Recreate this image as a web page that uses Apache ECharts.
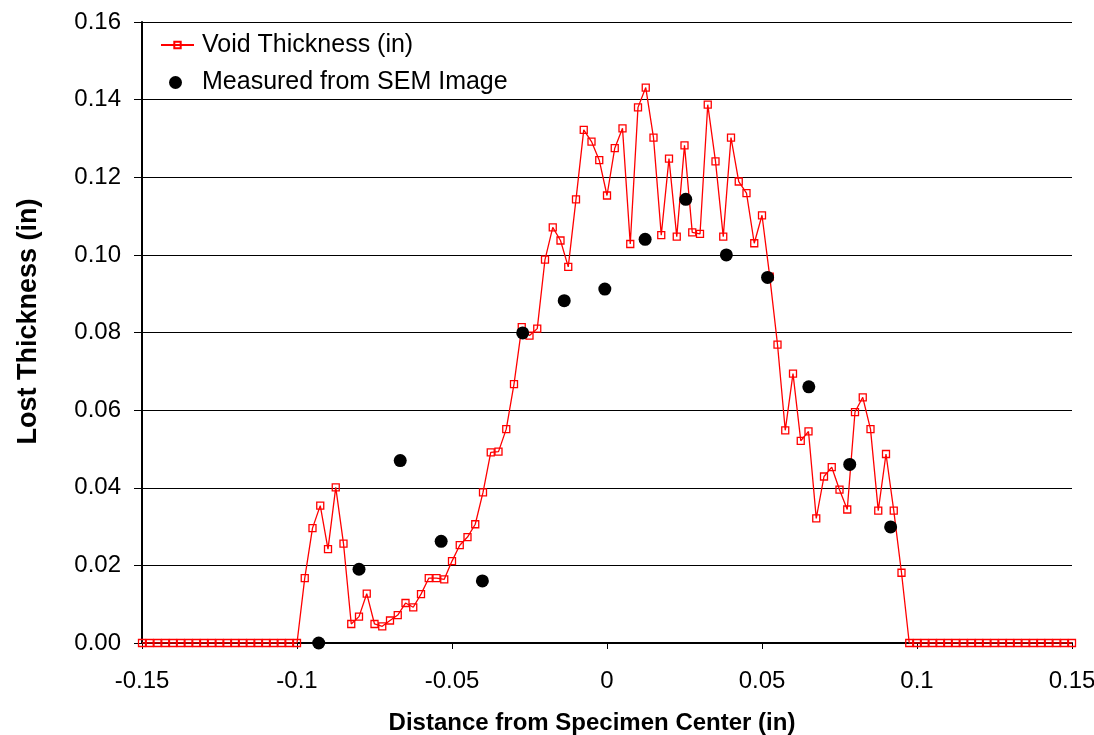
<!DOCTYPE html>
<html>
<head>
<meta charset="utf-8">
<script src="https://cdn.jsdelivr.net/npm/echarts@6/dist/echarts.min.js"></script>
<style>html,body{margin:0;padding:0;background:#fff;}#c{width:1094px;height:735px;}</style>
</head>
<body>
<div id="c"></div>
<script>
// Void thickness profile: x positions (in) and values (in)
const voidX = [
-0.15,-0.1475,-0.145,-0.1425,-0.14,-0.1375,-0.135,-0.1325,-0.13,-0.1275,
-0.125,-0.1225,-0.12,-0.1175,-0.115,-0.1125,-0.11,-0.1075,-0.105,-0.1025,
-0.1,-0.0975,-0.095,-0.0925,-0.09,-0.0875,-0.085,-0.0825,-0.08,-0.0775,
-0.075,-0.0725,-0.07,-0.0675,-0.065,-0.0625,-0.06,-0.0575,-0.055,-0.0525,
-0.05,-0.0475,-0.045,-0.0425,-0.04,-0.0375,-0.035,-0.0325,-0.03,-0.0275,
-0.025,-0.0225,-0.02,-0.0175,-0.015,-0.0125,-0.01,-0.0075,-0.005,-0.0025,
0,0.0025,0.005,0.0075,0.01,0.0125,0.015,0.0175,0.02,0.0225,
0.025,0.0275,0.03,0.0325,0.035,0.0375,0.04,0.0425,0.045,0.0475,
0.05,0.0525,0.055,0.0575,0.06,0.0625,0.065,0.0675,0.07,0.0725,
0.075,0.0775,0.08,0.0825,0.085,0.0875,0.09,0.0925,0.095,0.0975,
0.1,0.1025,0.105,0.1075,0.11,0.1125,0.115,0.1175,0.12,0.1225,
0.125,0.1275,0.13,0.1325,0.135,0.1375,0.14,0.1425,0.145,0.1475,0.15
];
const voidY = [
0,0,0,0,0,0,0,0,0,0,
0,0,0,0,0,0,0,0,0,0,
0,0.0167,0.0296,0.0354,0.0242,0.0401,0.0256,0.0049,0.0068,0.0127,
0.0049,0.0043,0.0058,0.0072,0.0103,0.0092,0.0126,0.0167,0.0167,0.0164,
0.0211,0.0252,0.0273,0.0306,0.0388,0.0491,0.0493,0.0551,0.0667,0.0814,
0.0792,0.0810,0.0988,0.1071,0.1037,0.0969,0.1143,0.1322,0.1292,0.1244,
0.1153,0.1275,0.1326,0.1028,0.1380,0.1431,0.1302,0.1051,0.1248,0.1047,
0.1282,0.1058,0.1054,0.1387,0.1241,0.1047,0.1302,0.1189,0.1159,0.1030,
0.1102,0.0944,0.0769,0.0548,0.0694,0.0521,0.0545,0.0321,0.0429,0.0453,
0.0395,0.0344,0.0595,0.0633,0.0551,0.0341,0.0487,0.0341,0.0181,0,
0,0,0,0,0,0,0,0,0,0,
0,0,0,0,0,0,0,0,0,0,0
];
// SEM measurements
const semX = [-0.093,-0.080,-0.0667,-0.0535,-0.0402,-0.0272,-0.0138,-0.0007,0.0123,0.0254,0.0385,0.0518,0.0651,0.0783,0.0915];
const semY = [0,0.0190,0.0470,0.0262,0.0160,0.0799,0.0882,0.0912,0.1040,0.1143,0.1000,0.0942,0.0660,0.0460,0.0299];

const seriesNames = ['Void Thickness (in)', 'Measured from SEM Image'];
const xTitle = 'Distance from Specimen Center (in)';
const yTitle = 'Lost Thickness (in)';

const FONT = '"Liberation Sans", Arial, sans-serif';
const chart = echarts.init(document.getElementById('c'), null, {renderer: 'canvas'});
chart.setOption({
  animation: false,
  backgroundColor: '#fff',
  grid: {left: 142, right: 22, top: 22, bottom: 92, containLabel: false, outerBoundsMode: 'none'},
  legend: [
    {
      left: 155, top: 27, padding: 5, itemWidth: 33, itemHeight: 8,
      textStyle: {fontFamily: FONT, fontSize: 25, lineHeight: 26, color: '#000', padding: [0,0,0,3]},
      data: [{name: seriesNames[0]}]
    },
    {
      left: 164, top: 64.5, padding: 5, itemWidth: 33, itemHeight: 13,
      textStyle: {fontFamily: FONT, fontSize: 25, lineHeight: 26, color: '#000', padding: [0,0,0,5]},
      data: [{name: seriesNames[1]}]
    }
  ],
  xAxis: {
    type: 'value', min: -0.15, max: 0.15, interval: 0.05,
    name: xTitle, nameLocation: 'middle', nameGap: 68,
    nameTextStyle: {fontFamily: FONT, fontSize: 24, fontWeight: 'bold', color: '#000', padding: [0,30,0,0]},
    axisLine: {onZero: false, lineStyle: {color: '#000', width: 2}},
    axisTick: {show: true, length: 6, lineStyle: {color: '#000'}},
    axisLabel: {fontFamily: FONT, fontSize: 24, color: '#000', margin: 26},
    splitLine: {show: false}
  },
  yAxis: {
    type: 'value', min: 0, max: 0.16, interval: 0.02,
    name: yTitle, nameLocation: 'middle', nameGap: 100, nameRotate: 90,
    nameTextStyle: {fontFamily: FONT, fontSize: 27, fontWeight: 'bold', color: '#000', padding: [0,0,0,22]},
    axisLine: {show: true, onZero: false, lineStyle: {color: '#000', width: 2}},
    axisTick: {show: true, length: 8, lineStyle: {color: '#000'}},
    axisLabel: {fontFamily: FONT, fontSize: 24, color: '#000', margin: 21,
      formatter: v => v.toFixed(2)},
    splitLine: {show: true, lineStyle: {color: '#000', width: 1}}
  },
  series: [
    {
      name: seriesNames[0], type: 'line',
      data: voidX.map((x, i) => [x, voidY[i]]),
      symbol: 'rect', symbolSize: 7, showAllSymbol: true,
      lineStyle: {color: '#ff0000', width: 1.3},
      itemStyle: {color: 'rgba(255,255,255,0)', borderColor: '#ff0000', borderWidth: 1.3},
      z: 3
    },
    {
      name: seriesNames[1], type: 'scatter',
      data: semX.map((x, i) => [x, semY[i]]),
      symbol: 'circle', symbolSize: 13,
      itemStyle: {color: '#000', opacity: 1},
      z: 4
    }
  ]
});
</script>
</body>
</html>
